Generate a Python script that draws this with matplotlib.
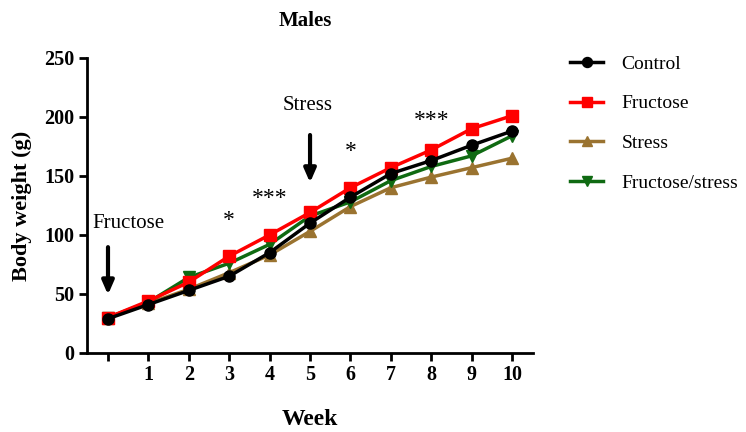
import numpy as np
import matplotlib.pyplot as plt

plt.rcParams['font.family'] = ['Liberation Serif', 'DejaVu Serif']

weeks = [0, 1, 2, 3, 4, 5, 6, 7, 8, 9, 10]
control = [29, 41, 53, 65, 85, 110, 132, 152, 163, 176, 188]
fructose = [30, 44, 60, 82, 100, 119, 140, 157, 172, 190, 201]
stress = [30, 42, 54, 68, 83, 103, 124, 140, 149, 157, 165]
fructose_stress = [30, 43, 64, 76, 92, 116, 128, 146, 158, 167, 184]

tick_labels = ['', '1', '2', '3', '4', '5', '6', '7', '8', '9', '10']

# significance marks: (week, height, text)
stars = [(3, 112, '*'), (4, 131, '***'), (6, 171, '*'), (8, 197, '***')]

fig = plt.figure(figsize=(7.46, 4.32), dpi=100)
ax = fig.add_axes([0.1166, 0.183, 0.598, 0.683])

ax.plot(weeks, stress, color='#9a7330', marker='^', ms=8, lw=2.5, label='Stress')
ax.plot(weeks, fructose_stress, color='#0f6a12', marker='v', ms=8, lw=2.5, label='Fructose/stress')
ax.plot(weeks, fructose, color='#ff0000', marker='s', ms=8, lw=2.5, label='Fructose')
ax.plot(weeks, control, color='black', marker='o', ms=8, lw=2.5, label='Control')

ax.set_xlim(-0.52, 10.52)
ax.set_ylim(0, 250)
ax.set_xticks(weeks)
ax.set_xticklabels(tick_labels)
ax.set_yticks([0, 50, 100, 150, 200, 250])
for lab in ax.get_xticklabels() + ax.get_yticklabels():
    lab.set_fontweight('bold')
    lab.set_fontsize(14.5)
ax.tick_params(width=2, length=6, pad=3)
for s in ['top', 'right']:
    ax.spines[s].set_visible(False)
for s in ['left', 'bottom']:
    ax.spines[s].set_linewidth(2)

ax.set_xlabel('Week', fontsize=17, fontweight='bold')
ax.xaxis.set_label_coords(0.5, -0.19)
ax.set_ylabel('Body weight (g)', fontsize=16, fontweight='bold', va='center')
ax.yaxis.set_label_coords(-0.146, 0.5)
ax.set_title('Males', fontsize=15, fontweight='bold', pad=23, x=0.49)

# treatment onset arrows
ax.text(0.5, 110, 'Fructose', fontsize=15, ha='center', va='center')
ax.annotate('', xy=(0, 47), xytext=(0, 92),
            arrowprops=dict(arrowstyle='-|>,head_width=0.35,head_length=0.8', color='black', lw=3))
ax.text(4.95, 210, 'Stress', fontsize=15, ha='center', va='center')
ax.annotate('', xy=(5, 142), xytext=(5, 187),
            arrowprops=dict(arrowstyle='-|>,head_width=0.35,head_length=0.8', color='black', lw=3))

for x, y, t in stars:
    ax.text(x, y, t, fontsize=17, ha='center', va='center')

handles, labels = ax.get_legend_handles_labels()
order = [3, 2, 0, 1]
fig.legend([handles[i] for i in order], [labels[i] for i in order],
           loc='upper left', bbox_to_anchor=(0.754, 0.89), frameon=False,
           borderpad=0.4, borderaxespad=0, fontsize=14, handlelength=1.7,
           labelspacing=1.13, markerscale=0.9, handletextpad=0.93)

fig.savefig('out.png', dpi=100)
